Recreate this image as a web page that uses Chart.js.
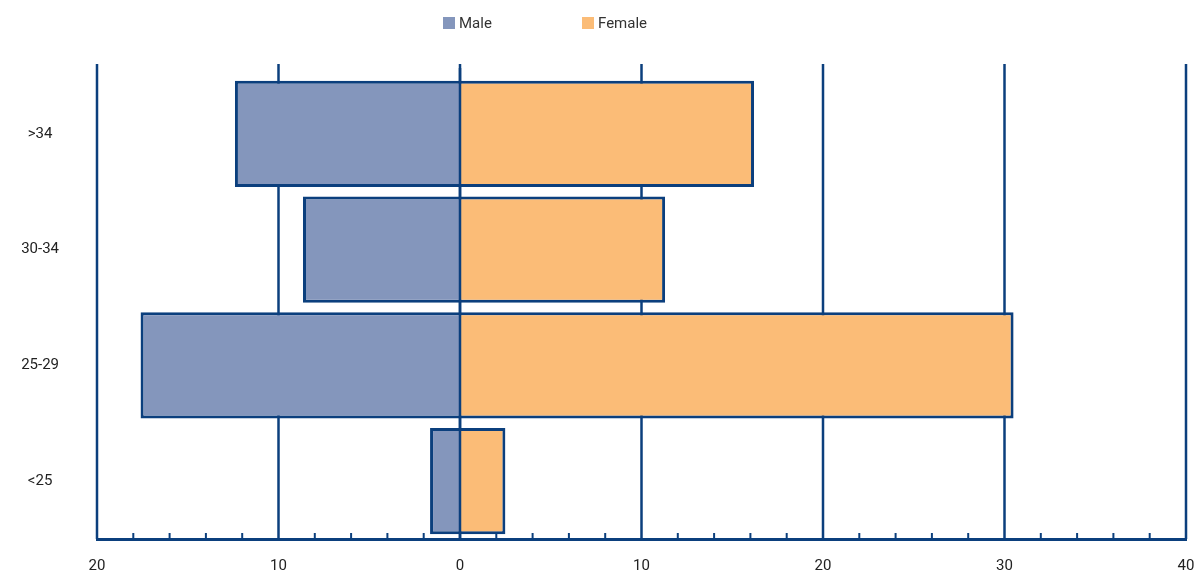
<!DOCTYPE html>
<html>
<head>
<meta charset="utf-8">
<script src="https://cdn.jsdelivr.net/npm/chart.js@4"></script>
<style>
  body { margin: 0; background: #fff; }
  #wrap { position: relative; width: 1194px; height: 571px; }
  #grafico { display: block; }
  .leyenda { position: absolute; top: 14px; font: 15px Roboto, sans-serif; color: #333; line-height: 18px; }
  .leyenda span { display: inline-block; width: 12px; height: 12px; vertical-align: -1px; margin-right: 4px; }
</style>
</head>
<body>
<div id="wrap">
  <canvas id="grafico" width="1194" height="571"></canvas>
  <div class="leyenda" style="left:443px"><span style="background:#8496bc"></span>Male</div>
  <div class="leyenda" style="left:582px"><span style="background:#fbbc77"></span>Female</div>
</div>
<script>
// datos (hombres en negativo para la piramide)
const categorias = [">34", "30-34", "25-29", "<25"];
const hombres = [-12.4, -8.65, -17.6, -1.65];
const mujeres = [16.2, 11.3, 30.5, 2.5];
const ticksX = [-20, -10, 0, 10, 20, 30, 40];

const azul = "#0b3f7d";

// lineas de la rejilla y marcas menores
const rejilla = {
    id: "rejilla",
    beforeDatasetsDraw(chart) {
        const ctx = chart.ctx;
        const x = chart.scales.x;
        const area = chart.chartArea;
        ctx.save();
        ctx.strokeStyle = azul;
        ctx.lineWidth = 2.5;
        ticksX.forEach((v) => {
            const px = x.getPixelForValue(v);
            ctx.beginPath();
            ctx.moveTo(px, area.top - 12);
            ctx.lineTo(px, area.bottom);
            ctx.stroke();
        });
        ctx.lineWidth = 2;
        for (let v = ticksX[0]; v <= ticksX[ticksX.length - 1]; v += 2) {
            if (v % 10 === 0) continue;
            const px = x.getPixelForValue(v);
            ctx.beginPath();
            ctx.moveTo(px, area.bottom);
            ctx.lineTo(px, area.bottom - 6);
            ctx.stroke();
        }
        ctx.restore();
    },
    afterDatasetsDraw(chart) {
        const ctx = chart.ctx;
        const px = chart.scales.x.getPixelForValue(0);
        ctx.save();
        ctx.strokeStyle = azul;
        ctx.lineWidth = 2.5;
        ctx.beginPath();
        ctx.moveTo(px, chart.chartArea.top - 8);
        ctx.lineTo(px, chart.chartArea.bottom);
        ctx.stroke();
        ctx.restore();
    }
};

const ctx = document.getElementById("grafico").getContext("2d");
let chart = new Chart(ctx, {
    type: "bar",
    data: {
        labels: categorias,
        datasets: [
            {
                label: "Male",
                data: hombres,
                backgroundColor: "#8496bc",
                borderColor: azul,
                borderWidth: 3,
                borderSkipped: "start"
            },
            {
                label: "Female",
                data: mujeres,
                backgroundColor: "#fbbc77",
                borderColor: azul,
                borderWidth: 3,
                borderSkipped: "start"
            }
        ]
    },
    options: {
        indexAxis: "y",
        responsive: false,
        animation: false,
        layout: { padding: { top: 76, right: 8, left: 0, bottom: 0 } },
        datasets: { bar: { barPercentage: 0.92, categoryPercentage: 1 } },
        plugins: { legend: { display: false }, tooltip: { enabled: false } },
        scales: {
            x: {
                stacked: true,
                min: -20,
                max: 40,
                grid: { display: false, drawTicks: false },
                border: { display: true, color: azul, width: 3 },
                afterFit: (s) => { s.height = 32; s.paddingLeft = 0; s.paddingRight = 0; },
                ticks: {
                    stepSize: 10,
                    padding: 18,
                    maxRotation: 0,
                    color: "#222",
                    font: { family: "Roboto", size: 15 },
                    callback: (v) => Math.abs(v)
                }
            },
            y: {
                stacked: true,
                grid: { display: false, drawTicks: false },
                border: { display: false },
                afterFit: (s) => { s.width = 97; s.paddingTop = 0; s.paddingBottom = 0; },
                ticks: {
                    crossAlign: "center",
                    padding: 38,
                    color: "#222",
                    font: { family: "Roboto", size: 15 }
                }
            }
        }
    },
    plugins: [rejilla]
});
</script>
</body>
</html>
